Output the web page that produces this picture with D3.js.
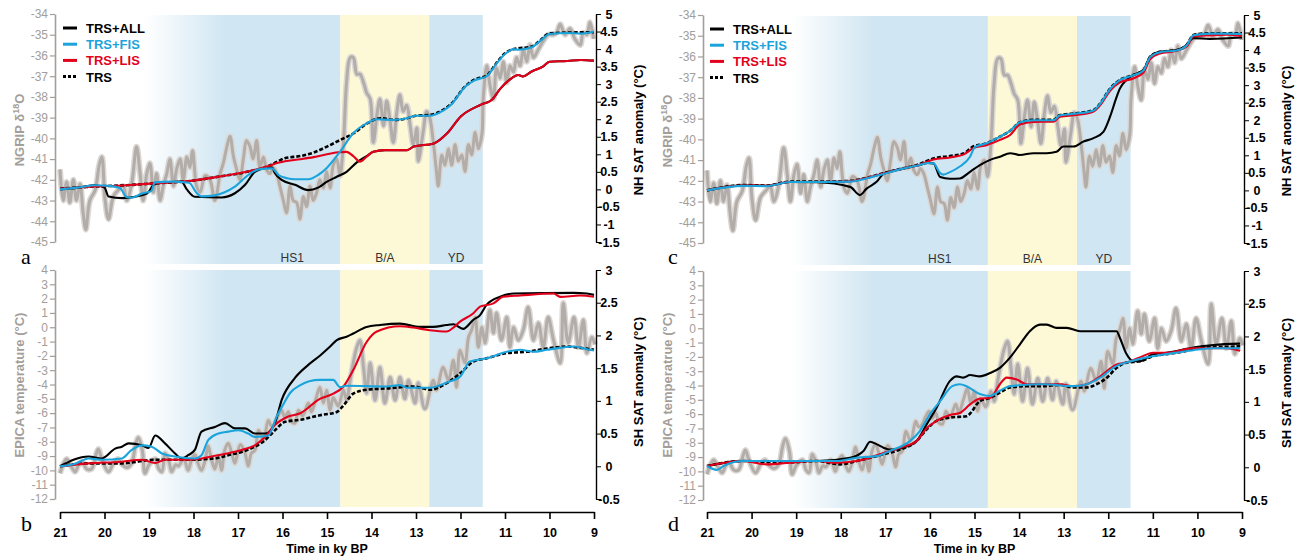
<!DOCTYPE html>
<html>
<head>
<meta charset="utf-8">
<script src="https://cdn.jsdelivr.net/npm/d3@7"></script>
<style>
body { margin: 0; background: #fff; }
svg text { font-family: "Liberation Sans", Arial, sans-serif; }
</style>
</head>
<body>
<svg id="fig" width="1298" height="557"></svg>
<script>
//---------------- proxy records [age ky BP, value] ----------------------
var ngrip = [[21.00,-41.5],[20.93,-43.0],[20.85,-42.1],[20.78,-43.1],[20.70,-42.0],[20.63,-43.0],[20.55,-42.2],[20.48,-43.6],[20.42,-44.4],[20.33,-43.0],[20.21,-42.5],[20.12,-41.3],[20.06,-40.9],[19.99,-42.9],[19.91,-43.9],[19.80,-42.8],[19.69,-42.5],[19.58,-42.3],[19.50,-43.0],[19.39,-42.2],[19.28,-40.4],[19.20,-41.7],[19.13,-43.0],[19.05,-41.7],[18.98,-41.2],[18.90,-42.6],[18.83,-41.7],[18.75,-43.0],[18.68,-42.3],[18.60,-41.7],[18.53,-41.0],[18.45,-42.3],[18.38,-41.5],[18.30,-41.0],[18.23,-42.0],[18.15,-40.9],[18.08,-41.4],[18.02,-40.6],[17.93,-42.3],[17.85,-42.6],[17.74,-41.8],[17.63,-42.0],[17.52,-43.0],[17.40,-41.7],[17.33,-41.2],[17.25,-40.4],[17.18,-39.9],[17.10,-40.9],[17.03,-41.5],[16.96,-42.0],[16.88,-41.0],[16.81,-40.1],[16.73,-40.4],[16.66,-41.0],[16.58,-40.1],[16.51,-41.4],[16.43,-40.9],[16.36,-41.5],[16.28,-41.7],[16.21,-41.4],[16.13,-41.7],[16.06,-42.3],[15.98,-43.0],[15.91,-43.6],[15.83,-42.3],[15.76,-43.0],[15.68,-43.1],[15.61,-43.9],[15.53,-42.8],[15.46,-43.3],[15.38,-42.3],[15.31,-43.0],[15.23,-42.6],[15.16,-42.0],[15.08,-42.4],[15.01,-41.6],[14.93,-42.4],[14.86,-41.3],[14.78,-41.0],[14.71,-41.8],[14.63,-40.2],[14.56,-37.3],[14.48,-36.1],[14.41,-36.1],[14.33,-36.9],[14.26,-36.9],[14.18,-37.3],[14.11,-37.8],[14.03,-38.1],[13.96,-40.2],[13.88,-38.9],[13.81,-38.1],[13.73,-39.4],[13.66,-38.2],[13.58,-39.2],[13.51,-40.2],[13.43,-38.7],[13.36,-37.9],[13.29,-38.7],[13.21,-38.4],[13.13,-39.4],[13.06,-40.3],[12.98,-39.5],[12.95,-41.1],[12.84,-39.7],[12.76,-38.7],[12.69,-39.0],[12.61,-40.2],[12.54,-41.6],[12.50,-42.3],[12.42,-40.8],[12.35,-41.3],[12.27,-40.5],[12.20,-41.3],[12.12,-40.3],[12.05,-41.1],[11.97,-40.8],[11.90,-41.6],[11.82,-40.3],[11.75,-40.8],[11.67,-39.7],[11.60,-40.5],[11.52,-39.8],[11.49,-38.1],[11.41,-36.5],[11.34,-37.4],[11.26,-38.1],[11.19,-36.6],[11.11,-37.1],[11.04,-36.3],[10.96,-37.3],[10.89,-36.5],[10.81,-36.8],[10.74,-36.1],[10.66,-36.5],[10.59,-35.7],[10.51,-36.3],[10.44,-35.5],[10.36,-36.1],[10.25,-35.7],[10.14,-35.3],[10.03,-35.0],[9.91,-35.0],[9.84,-34.9],[9.76,-34.5],[9.65,-35.0],[9.54,-34.7],[9.43,-35.2],[9.31,-35.5],[9.24,-34.9],[9.16,-35.0],[9.09,-34.4],[9.01,-35.2]];

var epica = [[21.00,-10.2],[20.93,-9.6],[20.85,-9.2],[20.75,-9.7],[20.66,-10.1],[20.58,-9.6],[20.50,-9.4],[20.40,-9.9],[20.29,-9.9],[20.20,-9.0],[20.14,-8.5],[20.05,-9.3],[19.91,-10.1],[19.80,-9.5],[19.70,-9.2],[19.60,-9.6],[19.50,-9.8],[19.39,-9.5],[19.30,-8.2],[19.24,-7.7],[19.15,-8.6],[19.09,-10.2],[19.00,-9.6],[18.86,-9.2],[18.78,-9.9],[18.71,-10.1],[18.64,-8.8],[18.55,-9.4],[18.49,-10.1],[18.40,-9.6],[18.34,-9.7],[18.22,-9.2],[18.12,-10.0],[18.04,-9.2],[17.97,-8.9],[17.90,-9.5],[17.82,-10.0],[17.74,-9.3],[17.67,-8.3],[17.60,-9.2],[17.52,-9.9],[17.44,-9.0],[17.37,-10.0],[17.30,-8.6],[17.22,-8.1],[17.14,-8.8],[17.07,-9.5],[16.95,-8.2],[16.85,-8.7],[16.77,-9.7],[16.70,-8.8],[16.62,-8.6],[16.54,-7.2],[16.43,-7.9],[16.32,-6.5],[16.25,-6.9],[16.17,-6.7],[16.10,-6.2],[16.02,-5.8],[15.95,-6.3],[15.87,-5.9],[15.80,-6.6],[15.72,-6.7],[15.64,-5.8],[15.55,-6.2],[15.42,-5.3],[15.35,-5.9],[15.25,-5.0],[15.16,-4.2],[15.08,-5.3],[15.01,-4.4],[14.93,-5.8],[14.86,-4.9],[14.75,-5.5],[14.63,-4.4],[14.56,-5.1],[14.48,-3.7],[14.41,-2.5],[14.33,-1.4],[14.26,-0.9],[14.18,-2.8],[14.11,-4.6],[14.03,-2.5],[13.92,-5.1],[13.81,-2.8],[13.70,-5.3],[13.58,-3.5],[13.47,-5.1],[13.36,-3.5],[13.25,-5.0],[13.17,-3.7],[13.02,-5.3],[12.95,-3.9],[12.80,-5.7],[12.61,-3.7],[12.54,-4.4],[12.39,-2.8],[12.27,-3.7],[12.16,-2.3],[12.09,-4.2],[12.01,-1.6],[11.90,-2.5],[11.82,-0.7],[11.75,-0.2],[11.67,0.7],[11.60,-1.4],[11.52,0.0],[11.45,-1.1],[11.34,1.2],[11.26,-0.4],[11.19,1.0],[11.08,-0.9],[10.96,0.7],[10.89,-1.4],[10.81,0.0],[10.70,-0.9],[10.59,-0.2],[10.48,1.4],[10.36,-0.9],[10.25,0.3],[10.14,-1.4],[10.03,0.7],[9.91,-0.9],[9.76,-2.5],[9.69,1.7],[9.58,-1.1],[9.45,0.7],[9.35,-1.4],[9.24,0.5],[9.16,-1.8],[9.05,-0.7],[8.98,-1.2]];

//---------------- model runs, NH SAT anomaly (panel a) ----------------------
var allA = [[21,0.0],[20.6,0.05],[20.21,0.12],[20.0,0.05],[19.91,-0.2],[19.6,-0.25],[19.31,-0.21],[19.05,-0.12],[18.87,0.15],[18.5,0.21],[18.27,0.22],[18.15,0.0],[17.97,-0.21],[17.37,-0.23],[17.07,-0.11],[16.84,0.13],[16.62,0.5],[16.35,0.62],[16.24,0.63],[16.17,0.46],[16.02,0.27],[15.72,0.13],[15.42,-0.02],[15.2,0.05],[15.0,0.22],[14.78,0.36],[14.56,0.5],[14.33,0.77],[14.11,0.95],[13.96,1.07],[13.7,1.12],[13.2,1.12],[13.05,1.22],[12.6,1.31],[12.3,1.6],[12.0,2.07],[11.55,2.41],[11.3,2.55],[11.1,2.88],[10.9,3.12],[10.7,3.26],[10.6,3.22],[10.4,3.36],[10.15,3.5],[10.0,3.64],[9.6,3.66],[9.3,3.69],[9.0,3.67]];
var fisA = [[21,0.0],[20.6,0.05],[20.2,0.12],[19.9,0.1],[19.65,0.03],[19.5,-0.22],[19.4,-0.24],[19.16,-0.12],[18.95,-0.05],[18.87,0.2],[18.5,0.22],[18.1,0.19],[17.93,-0.1],[17.82,-0.2],[17.52,-0.17],[17.3,-0.08],[17.07,0.08],[16.77,0.41],[16.54,0.57],[16.24,0.6],[16.09,0.41],[15.9,0.32],[15.72,0.29],[15.42,0.29],[15.2,0.41],[15.0,0.62],[14.71,1.07],[14.41,1.6],[14.11,1.88],[13.88,2.0],[13.5,1.98],[13.2,2.03],[13.0,2.1],[12.7,2.1],[12.4,2.24],[12.2,2.43],[11.9,2.92],[11.7,3.1],[11.4,3.24],[11.2,3.57],[11.0,3.86],[10.8,4.0],[10.7,3.98],[10.4,4.05],[10.2,4.24],[10.0,4.43],[9.6,4.46],[9.3,4.44],[9.0,4.5]];
var lisA = [[21,0.02],[20.4,0.07],[19.5,0.12],[18.9,0.17],[18.0,0.25],[17.5,0.35],[16.8,0.5],[16.35,0.65],[16.1,0.76],[15.95,0.8],[15.6,0.86],[15.3,0.92],[15.0,1.0],[14.8,1.05],[14.56,1.07],[14.41,0.95],[14.26,0.79],[14.11,0.93],[13.96,1.07],[13.7,1.12],[13.2,1.12],[13.05,1.22],[12.6,1.31],[12.3,1.6],[12.0,2.07],[11.55,2.41],[11.3,2.55],[11.1,2.88],[10.9,3.12],[10.7,3.26],[10.6,3.22],[10.4,3.36],[10.15,3.5],[10.0,3.64],[9.6,3.66],[9.3,3.69],[9.0,3.67]];
var trsA = [[21,0.02],[20.4,0.07],[19.5,0.12],[18.9,0.17],[18.0,0.25],[17.5,0.35],[16.8,0.5],[16.35,0.65],[16.1,0.8],[15.95,0.89],[15.6,0.95],[15.3,1.05],[15.0,1.22],[14.7,1.41],[14.4,1.6],[14.1,1.88],[13.8,2.03],[13.5,1.98],[13.2,2.03],[13.0,2.1],[12.7,2.12],[12.4,2.26],[12.2,2.45],[11.9,2.93],[11.7,3.12],[11.4,3.26],[11.2,3.59],[11.0,3.88],[10.8,4.0],[10.7,4.02],[10.4,4.07],[10.2,4.26],[10.0,4.45],[9.6,4.47],[9.0,4.48]];

//---------------- model runs, SH SAT anomaly (panel b) ----------------------
var allB = [[21,0.0],[20.36,0.15],[20.06,0.12],[19.76,0.27],[19.61,0.30],[19.46,0.35],[19.16,0.32],[19.01,0.28],[18.86,0.47],[18.64,0.35],[18.42,0.2],[18.27,0.12],[18.12,0.17],[17.97,0.25],[17.82,0.53],[17.52,0.6],[17.29,0.66],[17.07,0.58],[16.84,0.58],[16.62,0.5],[16.39,0.5],[16.17,0.66],[16.02,1.01],[15.72,1.35],[15.42,1.55],[15.16,1.69],[14.93,1.83],[14.78,1.93],[14.56,1.98],[14.41,2.03],[14.11,2.13],[13.81,2.16],[13.36,2.18],[12.91,2.13],[12.61,2.13],[12.31,2.16],[12.16,2.17],[11.94,2.10],[11.71,2.24],[11.56,2.31],[11.41,2.47],[11.11,2.59],[10.81,2.64],[9.46,2.65],[9.16,2.64],[9.0,2.62]];
var fisB = [[21,0.0],[20.66,0.04],[20.36,0.12],[20.06,0.10],[19.61,0.12],[19.39,0.25],[19.16,0.32],[18.94,0.30],[18.72,0.2],[18.42,0.15],[17.97,0.12],[17.82,0.17],[17.67,0.40],[17.44,0.50],[17.22,0.53],[16.99,0.55],[16.77,0.50],[16.62,0.45],[16.32,0.47],[16.13,0.76],[15.98,0.95],[15.83,1.12],[15.6,1.24],[15.4,1.3],[15.16,1.32],[14.86,1.32],[14.71,1.21],[14.56,1.23],[13.66,1.22],[13.36,1.24],[13.21,1.2],[12.69,1.2],[12.31,1.28],[12.01,1.37],[11.79,1.60],[11.41,1.65],[10.96,1.75],[10.66,1.78],[10.36,1.75],[10.06,1.78],[9.76,1.81],[9.46,1.83],[9.16,1.79],[9.0,1.77]];
var lisB = [[21,0.0],[20.36,0.045],[19.61,0.07],[19.16,0.1],[18.86,0.05],[18.64,0.1],[18.12,0.1],[17.82,0.12],[17.52,0.16],[17.22,0.2],[16.92,0.25],[16.62,0.32],[16.39,0.45],[16.17,0.63],[15.87,0.76],[15.6,0.81],[15.16,1.03],[14.86,1.11],[14.63,1.22],[14.41,1.47],[14.11,1.9],[13.88,2.06],[13.36,2.14],[13.06,2.12],[12.69,2.08],[12.31,2.06],[12.16,2.12],[12.01,2.21],[11.71,2.34],[11.56,2.44],[11.26,2.49],[11.04,2.59],[10.66,2.61],[9.91,2.64],[9.76,2.59],[9.31,2.61],[9.0,2.59]];
var trsB = [[21,0.0],[20.36,0.045],[19.61,0.045],[18.86,0.1],[18.12,0.1],[17.52,0.12],[17.22,0.17],[16.92,0.22],[16.62,0.30],[16.39,0.40],[16.17,0.55],[15.94,0.68],[15.61,0.71],[15.16,0.78],[14.78,0.83],[14.63,0.93],[14.41,1.11],[14.11,1.17],[13.66,1.19],[13.06,1.22],[12.69,1.17],[12.31,1.27],[12.01,1.42],[11.71,1.60],[11.41,1.65],[10.96,1.73],[10.51,1.75],[10.06,1.80],[9.61,1.83],[9.3,1.81],[9.0,1.78]];

//---------------- model runs, NH SAT anomaly (panel c) ----------------------
var allC = [[21,0.0],[20.19,0.14],[19.66,0.13],[19.14,0.24],[18.54,0.23],[17.79,0.1],[17.57,-0.13],[17.42,0.05],[17.19,0.25],[17.04,0.47],[16.6,0.62],[16.3,0.70],[16.05,0.78],[15.92,0.77],[15.77,0.38],[15.55,0.33],[15.33,0.34],[15.1,0.53],[14.88,0.72],[14.65,0.87],[14.43,0.96],[14.2,1.06],[13.98,1.01],[13.68,1.06],[13.38,1.06],[13.16,1.10],[13.01,1.25],[12.78,1.25],[12.56,1.39],[12.33,1.49],[12.11,1.67],[11.96,2.1],[11.81,2.67],[11.74,2.9],[11.59,3.15],[11.44,3.29],[11.21,3.43],[11.06,3.81],[10.84,3.95],[10.46,4.0],[10.24,4.15],[10.09,4.34],[9.72,4.32],[9.0,4.36]];
var fisC = [[21,0.0],[20.19,0.13],[19.66,0.12],[19.14,0.24],[18.54,0.24],[17.79,0.25],[17.49,0.32],[17.04,0.47],[16.6,0.62],[16.3,0.70],[16.05,0.78],[15.92,0.77],[15.77,0.49],[15.7,0.45],[15.55,0.52],[15.33,0.68],[15.1,0.96],[14.99,1.24],[14.73,1.34],[14.43,1.53],[14.2,1.70],[13.98,1.94],[13.68,2.0],[13.23,2.0],[13.08,2.14],[12.71,2.19],[12.33,2.28],[12.18,2.47],[11.96,2.89],[11.74,3.14],[11.44,3.28],[11.21,3.42],[11.06,3.80],[10.84,3.94],[10.46,3.99],[10.24,4.14],[10.09,4.42],[9.72,4.47],[9.34,4.47],[9.0,4.46]];
var lisC = [[21,0.0],[20.19,0.14],[19.66,0.13],[19.14,0.24],[18.54,0.24],[17.79,0.26],[17.49,0.33],[17.04,0.48],[16.6,0.62],[16.3,0.70],[15.92,0.88],[15.55,0.94],[15.25,1.02],[15.03,1.2],[14.73,1.29],[14.43,1.44],[14.2,1.58],[13.98,1.88],[13.68,1.95],[13.23,1.96],[13.08,2.10],[12.71,2.15],[12.33,2.25],[12.18,2.43],[11.96,2.84],[11.74,3.08],[11.44,3.19],[11.21,3.36],[11.06,3.74],[10.84,3.90],[10.46,3.98],[10.24,4.10],[10.09,4.39],[9.72,4.42],[9.34,4.44],[9.0,4.40]];
var trsC = [[21,0.0],[20.19,0.15],[19.66,0.14],[19.14,0.25],[18.54,0.25],[17.79,0.27],[17.49,0.34],[17.04,0.49],[16.6,0.63],[16.3,0.72],[15.92,0.91],[15.55,0.98],[15.25,1.05],[15.03,1.25],[14.73,1.34],[14.43,1.53],[14.2,1.70],[13.98,1.94],[13.68,2.01],[13.23,2.01],[13.08,2.15],[12.71,2.20],[12.33,2.29],[12.18,2.48],[11.96,2.9],[11.74,3.15],[11.44,3.29],[11.21,3.43],[11.06,3.81],[10.84,3.95],[10.46,4.0],[10.24,4.15],[10.09,4.43],[9.72,4.48],[9.34,4.48],[9.0,4.48]];

//---------------- model runs, SH SAT anomaly (panel d) ----------------------
var allD = [[21,0.02],[20.19,0.096],[19.29,0.096],[18.54,0.096],[17.79,0.147],[17.49,0.25],[17.34,0.39],[17.19,0.35],[17.04,0.30],[16.9,0.27],[16.6,0.30],[16.3,0.40],[16.07,0.66],[15.85,0.91],[15.55,1.32],[15.4,1.39],[15.25,1.37],[15.1,1.41],[14.88,1.39],[14.65,1.44],[14.43,1.52],[14.2,1.68],[13.98,1.88],[13.76,2.08],[13.53,2.18],[13.38,2.18],[13.16,2.13],[12.93,2.13],[12.63,2.08],[12.03,2.08],[11.81,2.08],[11.74,1.98],[11.59,1.73],[11.44,1.62],[11.29,1.62],[10.99,1.73],[10.69,1.75],[10.09,1.83],[9.64,1.87],[9.04,1.89]];
var fisD = [[21,0.02],[20.78,-0.04],[20.63,0.02],[20.19,0.096],[19.29,0.096],[18.09,0.096],[17.64,0.147],[17.19,0.17],[16.9,0.25],[16.45,0.40],[16.23,0.55],[16.0,0.81],[15.77,1.01],[15.5,1.24],[15.33,1.27],[15.18,1.24],[14.88,1.12],[14.65,1.09],[14.43,1.17],[14.2,1.24],[13.46,1.27],[12.78,1.24],[12.48,1.27],[12.18,1.37],[11.81,1.55],[11.59,1.60],[11.14,1.68],[10.69,1.73],[10.09,1.79],[9.64,1.82],[9.04,1.82]];
var lisD = [[21,0.02],[20.19,0.096],[19.66,0.045],[19.14,0.07],[18.54,0.096],[18.09,0.07],[17.64,0.096],[17.04,0.22],[16.67,0.30],[16.30,0.40],[16.07,0.6],[15.85,0.71],[15.55,0.8],[15.33,0.83],[15.1,0.96],[14.88,1.05],[14.65,1.06],[14.43,1.27],[14.28,1.37],[14.05,1.34],[13.83,1.27],[13.08,1.27],[12.78,1.24],[12.48,1.27],[12.18,1.39],[11.81,1.57],[11.59,1.60],[11.29,1.68],[10.99,1.75],[10.69,1.75],[10.09,1.82],[9.34,1.82],[9.04,1.78]];
var trsD = [[21,0.02],[20.19,0.096],[19.29,0.07],[18.54,0.096],[18.02,0.045],[17.64,0.096],[17.04,0.2],[16.67,0.27],[16.30,0.40],[16.07,0.58],[15.85,0.71],[15.55,0.76],[15.18,0.78],[14.88,1.01],[14.65,1.06],[14.43,1.14],[14.2,1.22],[13.83,1.24],[13.46,1.24],[13.08,1.26],[12.78,1.22],[12.48,1.22],[12.26,1.27],[12.03,1.37],[11.81,1.52],[11.59,1.60],[11.29,1.62],[10.99,1.70],[10.69,1.73],[10.24,1.78],[9.94,1.84],[9.49,1.84],[9.04,1.85]];

//---------------- axes, periods, legend ----------------------
var ageTicks = [21, 20, 19, 18, 17, 16, 15, 14, 13, 12, 11, 10, 9];
var ngripTicks = [-34, -35, -36, -37, -38, -39, -40, -41, -42, -43, -44, -45];
var nhTicks = [5, 4.5, 4, 3.5, 3, 2.5, 2, 1.5, 1, 0.5, 0, -0.5, -1, -1.5];
var epicaTicks = [4, 3, 2, 1, 0, -1, -2, -3, -4, -5, -6, -7, -8, -9, -10, -11, -12];
var shTicks = [3, 2.5, 2, 1.5, 1, 0.5, 0, -0.5];
var periods = [{name: "HS1", from: 19.1, to: 14.7, mid: 15.78}, {name: "B/A", from: 14.7, to: 12.7, mid: 13.7}, {name: "YD", from: 12.7, to: 11.5, mid: 12.1}];
var legendNames = ["TRS+ALL", "TRS+FIS", "TRS+LIS", "TRS"];

var grayAxis = "#a39e9a";
var blue = "#1ba3dc";
var red = "#e3001b";
var shadeBlue = "#d0e6f2";
var shadeYellow = "#fdf8d6";

var svg = d3.select("#fig");

// gradient for the start of HS1
var grad = svg.append("defs").append("linearGradient").attr("id", "hsGrad");
grad.append("stop").attr("offset", "0%").attr("stop-color", "#ffffff");
grad.append("stop").attr("offset", "100%").attr("stop-color", shadeBlue);

var columns = [
	{left: 60, right: 594, axL: 55, axR: 596, dy: 0, letters: ["a", "b"], letterX: 21,
		runs: [[allA, fisA, lisA, trsA], [allB, fisB, lisB, trsB]], epicaTitle: "EPICA temperature (\u00b0C)"},
	{left: 707, right: 1242, axL: 703, axR: 1244, dy: 1, letters: ["c", "d"], letterX: 668,
		runs: [[allC, fisC, lisC, trsC], [allD, fisD, lisD, trsD]], epicaTitle: "EPICA temperatrue (\u00b0C)"}
];

var rows = [
	{top: 14, bottom: 242, shadeTop: 15, shadeBot: 264, proxy: ngrip, leftDom: [-45, -34], rightDom: [-1.5, 5],
		leftTicks: ngripTicks, rightTicks: nhTicks, rightTitle: "NH SAT anomaly (\u00b0C)", titleY: 130},
	{top: 270, bottom: 499, shadeTop: 270, shadeBot: 507, proxy: epica, leftDom: [-12, 4], rightDom: [-0.5, 3],
		leftTicks: epicaTicks, rightTicks: shTicks, rightTitle: "SH SAT anomaly (\u00b0C)", titleY: 382}
];

var runColors = ["#000", blue, red, "#000"];

columns.forEach(function(col, ci) {
	var x = d3.scaleLinear().domain([21, 9]).range([col.left, col.right]);

	rows.forEach(function(row, ri) {
		var top = row.top + col.dy, bottom = row.bottom + col.dy;
		var yL = d3.scaleLinear().domain(row.leftDom).range([bottom, top]);
		var yR = d3.scaleLinear().domain(row.rightDom).range([bottom, top]);
		var g = svg.append("g");

		// shaded periods
		var sTop = row.shadeTop + col.dy, sBot = row.shadeBot + col.dy;
		g.append("rect").attr("x", x(periods[0].from)).attr("y", sTop)
			.attr("width", x(17.3) - x(periods[0].from) + 1).attr("height", sBot - sTop)
			.attr("fill", "url(#hsGrad)");
		g.append("rect").attr("x", x(17.3)).attr("y", sTop)
			.attr("width", x(periods[0].to) - x(17.3)).attr("height", sBot - sTop)
			.attr("fill", shadeBlue);
		g.append("rect").attr("x", x(periods[1].from)).attr("y", sTop)
			.attr("width", x(periods[1].to) - x(periods[1].from)).attr("height", sBot - sTop)
			.attr("fill", shadeYellow);
		g.append("rect").attr("x", x(periods[2].from)).attr("y", sTop)
			.attr("width", x(periods[2].to) - x(periods[2].from)).attr("height", sBot - sTop)
			.attr("fill", shadeBlue);

		if (ri == 0) {
			g.selectAll(".period").data(periods).enter().append("text")
				.attr("x", function(d) { return x(d.mid); })
				.attr("y", 262 + col.dy)
				.attr("text-anchor", "middle")
				.style("font-size", "12px")
				.attr("fill", "#333")
				.text(function(d) { return d.name; });
		}

		// proxy record
		var proxyLine = d3.line()
			.x(function(d) { return x(d[0]); })
			.y(function(d) { return yL(d[1]); })
			.curve(d3.curveCatmullRom);
		g.append("path").datum(row.proxy).attr("d", proxyLine)
			.attr("fill", "none").attr("stroke", "#dbd7d4").attr("stroke-width", 6).attr("stroke-linejoin", "round");
		g.append("path").datum(row.proxy).attr("d", proxyLine)
			.attr("fill", "none").attr("stroke", "#b2ada9").attr("stroke-width", 3).attr("stroke-linejoin", "round");

		// model runs: draw TRS, ALL, LIS, FIS
		var runLine = d3.line()
			.x(function(d) { return x(d[0]); })
			.y(function(d) { return yR(d[1]); })
			.curve(d3.curveMonotoneX);
		var runs = col.runs[ri];
		[3, 0, 2, 1].forEach(function(k) {
			var p = g.append("path").datum(runs[k]).attr("d", runLine)
				.attr("fill", "none").attr("stroke", runColors[k])
				.attr("stroke-width", k == 3 ? 2.6 : 2.1)
				.attr("stroke-linejoin", "round");
			if (k == 3) p.attr("stroke-dasharray", "4,2");
		});

		// left axis (proxy)
		var axL = g.append("g").attr("transform", "translate(" + col.axL + ",0)")
			.attr("color", grayAxis)
			.call(d3.axisLeft(yL).tickValues(row.leftTicks).tickSize(5).tickSizeOuter(0).tickPadding(2)
				.tickFormat(function(d) { return String(d); }));
		axL.select(".domain").attr("stroke-width", 1.6);
		axL.selectAll("line").attr("stroke-width", 1.2);
		axL.selectAll("text").style("font-size", "12px").attr("fill", grayAxis);

		// right axis (model)
		var axR = g.append("g").attr("transform", "translate(" + col.axR + ",0)")
			.call(d3.axisRight(yR).tickValues(row.rightTicks).tickSize(5).tickSizeOuter(0)
				.tickFormat(function(d) { return String(d); }));
		axR.select(".domain").attr("stroke-width", 1.4);
		axR.selectAll("text").attr("x", 13).attr("text-anchor", "middle")
			.style("font-size", "12.5px").style("font-weight", "bold");

		// axis titles
		if (ri == 0) {
			var t = g.append("text").attr("transform", "translate(" + (col.axL - 31) + "," + (row.titleY + col.dy) + ") rotate(-90)")
				.attr("text-anchor", "middle").attr("fill", grayAxis)
				.style("font-size", "13px").style("font-weight", "bold");
			t.append("tspan").text("NGRIP \u03b4");
			t.append("tspan").attr("dy", -5).style("font-size", "9px").text("18");
			t.append("tspan").attr("dy", 5).text("O");
		} else {
			g.append("text").attr("transform", "translate(" + (col.axL - 31) + "," + (row.titleY + 3) + ") rotate(-90)")
				.attr("text-anchor", "middle").attr("fill", grayAxis)
				.style("font-size", "13px").style("font-weight", "bold")
				.text(col.epicaTitle);
		}
		g.append("text").attr("transform", "translate(" + (col.axR + 47) + "," + (row.titleY + col.dy) + ") rotate(-90)")
			.attr("text-anchor", "middle")
			.style("font-size", "13px").style("font-weight", "bold")
			.text(row.rightTitle);

		// panel letter
		g.append("text").attr("x", col.letterX).attr("y", ri == 0 ? 264 : 531)
			.style("font-family", "'Liberation Serif', 'DejaVu Serif', serif")
			.style("font-size", "22px")
			.text(col.letters[ri]);
	});

	// time axis
	var axX = svg.append("g").attr("transform", "translate(0,512)")
		.call(d3.axisBottom(x).tickValues(ageTicks).tickSize(7).tickSizeOuter(0).tickPadding(9)
			.tickFormat(function(d) { return String(d); }));
	axX.select(".domain").attr("stroke-width", 1.6);
	axX.selectAll("line").attr("stroke-width", 1.6);
	axX.selectAll("text").style("font-size", "12.5px").style("font-weight", "bold");
	svg.append("text").attr("x", x(15)).attr("y", 553).attr("text-anchor", "middle")
		.style("font-size", "12.5px").style("font-weight", "bold")
		.text("Time in ky BP");

	// legend
	var lg = svg.append("g").attr("transform", "translate(" + (col.left + 3) + "," + (28 + col.dy) + ")");
	legendNames.forEach(function(name, i) {
		var ln = lg.append("line").attr("x1", 0).attr("x2", 14).attr("y1", i * 16.2).attr("y2", i * 16.2)
			.attr("stroke", runColors[i]).attr("stroke-width", 3);
		if (i == 3) ln.attr("stroke-dasharray", "3,2");
		lg.append("text").attr("x", 23).attr("y", i * 16.2 + 5)
			.attr("fill", runColors[i])
			.style("font-size", "13px").style("font-weight", "bold")
			.text(name);
	});
});
</script>
</body>
</html>
